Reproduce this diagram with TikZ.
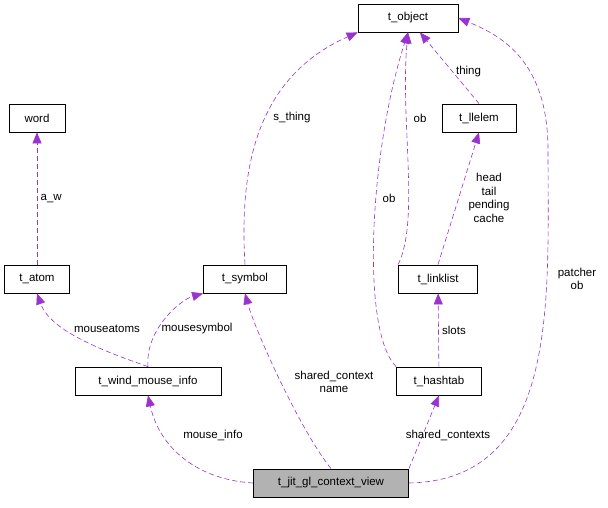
\documentclass[tikz,border=0pt]{standalone}
\usepackage{fontspec}
\setmainfont{Liberation Sans}
\usetikzlibrary{arrows.meta}
\begin{document}
\begin{tikzpicture}[x=1pt,y=-1pt,
    cls/.style={draw,thick,minimum height=28pt,inner xsep=5pt,font=\fontsize{11.5}{13}\selectfont},
    ref/.style={draw=edgecol,dashed,semithick,dash pattern=on 5pt off 3pt,-{Triangle[length=11pt,width=9pt,fill=edgecol]}},
    lbl/.style={font=\fontsize{11.5}{13.5}\selectfont,align=center}]
\definecolor{edgecol}{HTML}{9A32CD}
\useasboundingbox (0,0) rectangle (608,507);
% classes
\node[cls,minimum width=100pt] (obj) at (408,18) {t\_object};
\node[cls,minimum width=56pt] (word) at (37,118) {word};
\node[cls,minimum width=65pt] (atom) at (37,279) {t\_atom};
\node[cls,minimum width=83pt] (sym) at (245,279) {t\_symbol};
\node[cls,minimum width=74pt] (llelem) at (479,118) {t\_llelem};
\node[cls,minimum width=79pt] (list) at (438,279) {t\_linklist};
\node[cls,minimum width=146pt] (wmi) at (148,381) {t\_wind\_mouse\_info};
\node[cls,minimum width=85pt] (hash) at (439,381) {t\_hashtab};
\node[cls,minimum width=155pt,fill=black!30] (view) at (331,483) {t\_jit\_gl\_context\_view};
% members
\draw[ref] (atom) -- (word) node[lbl,midway,right] {a\_w};
\draw[ref] (wmi.north) .. controls (100,350) and (50,330) .. (atom.south) ;
\node[lbl] at (107,329) {mouseatoms};
\draw[ref] (wmi.north) .. controls (145,330) and (180,300) .. (sym.south west);
\node[lbl] at (197,329) {mousesymbol};
\draw[ref] (sym.north) .. controls (240,180) and (250,80) .. (obj.south west);
\node[lbl] at (292,118) {s\_thing};
\draw[ref] (llelem.north) -- (obj) node[lbl,pos=0.45,right] {thing};
\draw[ref] (list.north west) .. controls (420,220) and (400,120) .. (obj.south);
\node[lbl] at (420,118) {ob};
\draw[ref] (hash.north west) .. controls (360,330) and (370,150) .. (obj.south);
\node[lbl] at (389,198) {ob};
\draw[ref] (list.north) -- (llelem.south);
\node[lbl] at (489,198) {head\\tail\\pending\\cache};
\draw[ref] (hash) -- (list) node[lbl,midway,right] {slots};
\draw[ref] (view.east) .. controls (560,480) and (548,300) .. (548,150)
    .. controls (548,60) and (500,35) .. (obj.east);
\node[lbl] at (577,279) {patcher\\ob};
\draw[ref] (view.north) .. controls (300,430) and (255,330) .. (sym.south);
\node[lbl] at (334,382) {shared\_context\\name};
\draw[ref] (view.west) .. controls (200,480) and (160,450) .. (wmi.south);
\node[lbl] at (213,435) {mouse\_info};
\draw[ref] (view.north east) -- (hash.south);
\node[lbl] at (448,435) {shared\_contexts};
\end{tikzpicture}
\end{document}
